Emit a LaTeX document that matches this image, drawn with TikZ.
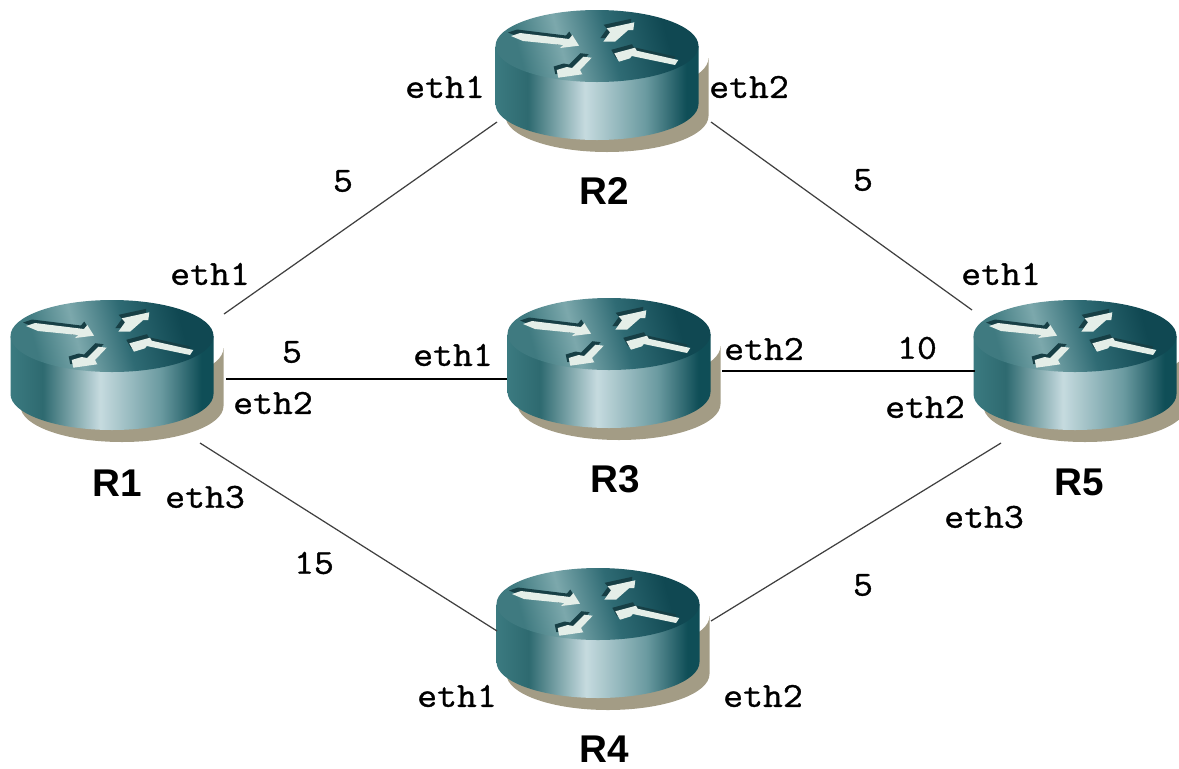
\documentclass[tikz,border=0pt]{standalone}
\usepackage{fontspec}
\setsansfont{Liberation Sans}
\setmonofont[FakeBold=1.0,FakeStretch=1.1]{Latin Modern Mono}
\usepackage{xcolor}
\usetikzlibrary{calc,positioning}

\definecolor{bodyshadow}{HTML}{A39C85}
\definecolor{arrowdark}{HTML}{173F45}
\definecolor{arrowlight}{HTML}{E4EEE8}
\definecolor{sideA}{HTML}{3B7A80}
\definecolor{sideB}{HTML}{2E6A70}
\definecolor{sideC}{HTML}{C6DBDF}
\definecolor{sideD}{HTML}{6A9AA0}
\definecolor{sideE}{HTML}{0F4E57}
\definecolor{topA}{HTML}{3F7A80}
\definecolor{topB}{HTML}{7CA8AC}
\definecolor{topC}{HTML}{2F6B74}
\definecolor{topD}{HTML}{104852}

\pgfdeclarehorizontalshading{routerside}{100bp}{
  color(0bp)=(sideA); color(25bp)=(sideA); color(33bp)=(sideB);
  color(47bp)=(sideC); color(62bp)=(sideD); color(72bp)=(sideE);
  color(100bp)=(sideE)}
\pgfdeclarehorizontalshading{routertop}{100bp}{
  color(0bp)=(topA); color(28bp)=(topA); color(40bp)=(topB);
  color(54bp)=(topC); color(70bp)=(topD); color(100bp)=(topD)}

\tikzset{
  routerbox/.style={rectangle, minimum width=4cm, minimum height=2.6cm, inner sep=0pt},
  port/.style={font=\ttfamily\fontsize{20}{20}\selectfont, inner sep=0pt},
  cost/.style={port},
  rname/.style={font=\sffamily\bfseries\fontsize{22}{22}\selectfont, inner sep=0pt},
  link/.style={draw=black!75, line width=0.7pt},
  pics/router/.style={code={
    % shadow, side, top
    \fill[bodyshadow] (-91.5,12) -- (-91.5,70) arc[start angle=180, end angle=0, x radius=101.5, y radius=36]
      -- (111.5,12) arc[start angle=0, end angle=180, x radius=101.5, y radius=36] -- cycle;
    \shade[shading=routerside] (-101.5,0) -- (-101.5,58) arc[start angle=180, end angle=0, x radius=101.5, y radius=36]
      -- (101.5,0) -- cycle;
    \shade[shading=routertop, shading angle=15] (0,0) ellipse [x radius=101.5, y radius=36];
    % arrows on the top face
    \foreach \col/\dx/\dy in {arrowdark/-3/-3.5, arrowlight/0/0} {
      \fill[\col, shift={(\dx,\dy)}] (-86,-10) -- (-77,-13) -- (-28,-7) -- (-24.7,-11) -- (-18,-0.3) -- (-37,2) -- (-33.7,-1) -- (-74,-5) -- cycle;
      \fill[\col, shift={(\dx,\dy)}] (6.3,-4.3) -- (13,-13.7) -- (9.7,-17.7) -- (37.3,-23.7) -- (36.3,-16) -- (31.3,-16) -- (18,-4.3) -- cycle;
      \fill[\col, shift={(\dx,\dy)}] (17.3,7.3) -- (38,1.7) -- (39.7,4.7) -- (81.3,14) -- (78,19) -- (34.7,10) -- (33,12.3) -- (22,15.7) -- cycle;
      \fill[\col, shift={(\dx,\dy)}] (-40.3,24) -- (-30.3,21) -- (-25,22) -- (-13.7,10.7) -- (-5.3,11.7) -- (-17,24) -- (-14.7,28.3) -- (-38.7,31.7) -- cycle;
    }
  }}
}

\begin{document}
\begin{tikzpicture}[x=0.02cm, y=-0.02cm]
    \useasboundingbox (0,0) rectangle (1179,768);

    % Routers
    \foreach \name/\px/\py in {R1/112/336, R2/597/46, R3/609/334, R4/598/604, R5/1075/336} {
      \pic at (\px,\py) {router};
      \node[routerbox] (\name) at (\px,\py) {};
    }

    % Links
    \draw[link] ($(R1)+(112,-22)$) -- ($(R2)+(-100,76)$);
    \draw[link] ($(R2)+(114,76)$) -- ($(R5)+(-103,-26)$);
    \draw[link, draw=black] ($(R1)+(114,43)$) -- ($(R3)+(-102,45)$);
    \draw[link, draw=black] ($(R3)+(113,37)$) -- ($(R5)+(-100,35)$);
    \draw[link] ($(R1)+(88,107)$) -- ($(R4)+(-101,27)$);
    \draw[link] ($(R4)+(113,17)$) -- ($(R5)+(-74,107)$);

    % Router names
    \node[rname] (nameR1) at (117,483) {R1};
    \node[rname] (nameR2) at (604,191) {R2};
    \node[rname] (nameR3) at (615,479) {R3};
    \node[rname] (nameR4) at (604,749) {R4};
    \node[rname] (nameR5) at (1079,482) {R5};

    % Ports
    \node[port] (r1eth1) at (210,274) {eth1};
    \node[port] (r1eth2) at (273,403) {eth2};
    \node[port] (r1eth3) at (205,497) {eth3};
    \node[port] (r2eth1) at (445,87) {eth1};
    \node[port] (r2eth2) at (749,87) {eth2};
    \node[port] (r3eth1) at (453,355) {eth1};
    \node[port] (r3eth2) at (764,349) {eth2};
    \node[port] (r4eth1) at (457,696) {eth1};
    \node[port] (r4eth2) at (763,696) {eth2};
    \node[port] (r5eth1) at (1001,274) {eth1};
    \node[port] (r5eth2) at (925,407) {eth2};
    \node[port] (r5eth3) at (984,517) {eth3};

    % Costs
    \node[cost] (c12) at (343,181) {5};
    \node[cost] (c25) at (863,180) {5};
    \node[cost] (c13) at (292,352) {5};
    \node[cost] (c35) at (917,348) {10};
    \node[cost] (c14) at (314,563) {15};
    \node[cost] (c45) at (863,585) {5};
\end{tikzpicture}
\end{document}
